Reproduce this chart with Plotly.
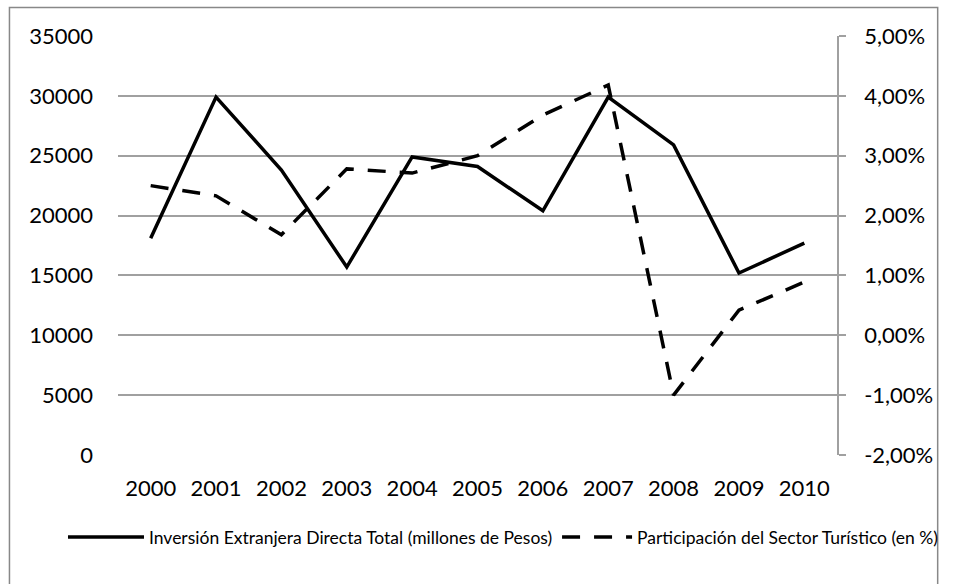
import plotly.graph_objects as go

years = ["2000", "2001", "2002", "2003", "2004", "2005", "2006", "2007", "2008", "2009", "2010"]
ied_total = [18100, 29900, 23800, 15700, 24900, 24100, 20400, 29900, 25900, 15200, 17700]
part_turismo = [2.50, 2.33, 1.68, 2.78, 2.71, 3.00, 3.68, 4.18, -1.00, 0.42, 0.89]

left_ticks = [0, 5000, 10000, 15000, 20000, 25000, 30000, 35000]
right_ticks = [-2, -1, 0, 1, 2, 3, 4, 5]
right_ticktext = [("%.2f" % v).replace(".", ",") + "%" for v in right_ticks]

name1 = "Inversión Extranjera Directa Total (millones de Pesos)"
name2 = "Participación del Sector Turístico (en %)"

W, H = 955, 584
L, R, T, B = 118, 105, 36, 129
pw, ph = W - L - R, H - T - B

def px(x):
    return (x - L) / pw

def py(y):
    return (H - B - y) / ph

FONT = "Lato"
fig = go.Figure()
fig.add_trace(go.Scatter(x=years, y=ied_total, mode="lines", name=name1,
                         line=dict(color="black", width=3.5), yaxis="y", legend="legend"))
fig.add_trace(go.Scatter(x=years, y=part_turismo, mode="lines", name=name2,
                         line=dict(color="black", width=3.5, dash="18px,14px"), yaxis="y2",
                         legend="legend2"))

leg_common = dict(orientation="h", yanchor="middle", xanchor="left",
                  font=dict(size=17.5, family=FONT), bgcolor="rgba(0,0,0,0)")

fig.update_layout(
    width=W, height=H,
    margin=dict(l=L, r=R, t=T, b=B),
    paper_bgcolor="white", plot_bgcolor="white",
    font=dict(family=FONT, color="black", size=22),
    xaxis=dict(type="category", showgrid=False, showline=False, ticks="",
               ticklabelstandoff=18, tickfont=dict(size=22), zeroline=False,
               range=[-0.5, 10.5]),
    yaxis=dict(range=[0, 35000], tickvals=left_ticks, ticktext=[str(v) for v in left_ticks],
               showgrid=True, gridcolor="#A0A0A0", gridwidth=1.5, zeroline=False,
               showline=False, ticks="", ticklabelstandoff=24, tickfont=dict(size=22)),
    yaxis2=dict(range=[-2, 5], overlaying="y", side="right", tickvals=right_ticks,
                ticktext=right_ticktext, showgrid=False, zeroline=False,
                showline=True, linecolor="#A0A0A0", linewidth=1.5,
                ticks="outside", ticklen=7, tickcolor="#A0A0A0", tickwidth=1.5,
                ticklabelstandoff=14, tickfont=dict(size=22)),
    showlegend=True,
    legend=dict(x=px(62), y=py(537), itemwidth=76, **leg_common),
    legend2=dict(x=px(565), y=py(537), itemwidth=70, **leg_common),
    shapes=[dict(type="rect", xref="paper", yref="paper",
                 x0=px(7.5), x1=px(952.5), y0=py(600), y1=py(7.5),
                 line=dict(color="#888888", width=1.5), layer="below")],
)

fig.write_html("out.html", config={"displayModeBar": False},
               post_script="document.body.style.margin='0';document.body.style.overflow='hidden';")
